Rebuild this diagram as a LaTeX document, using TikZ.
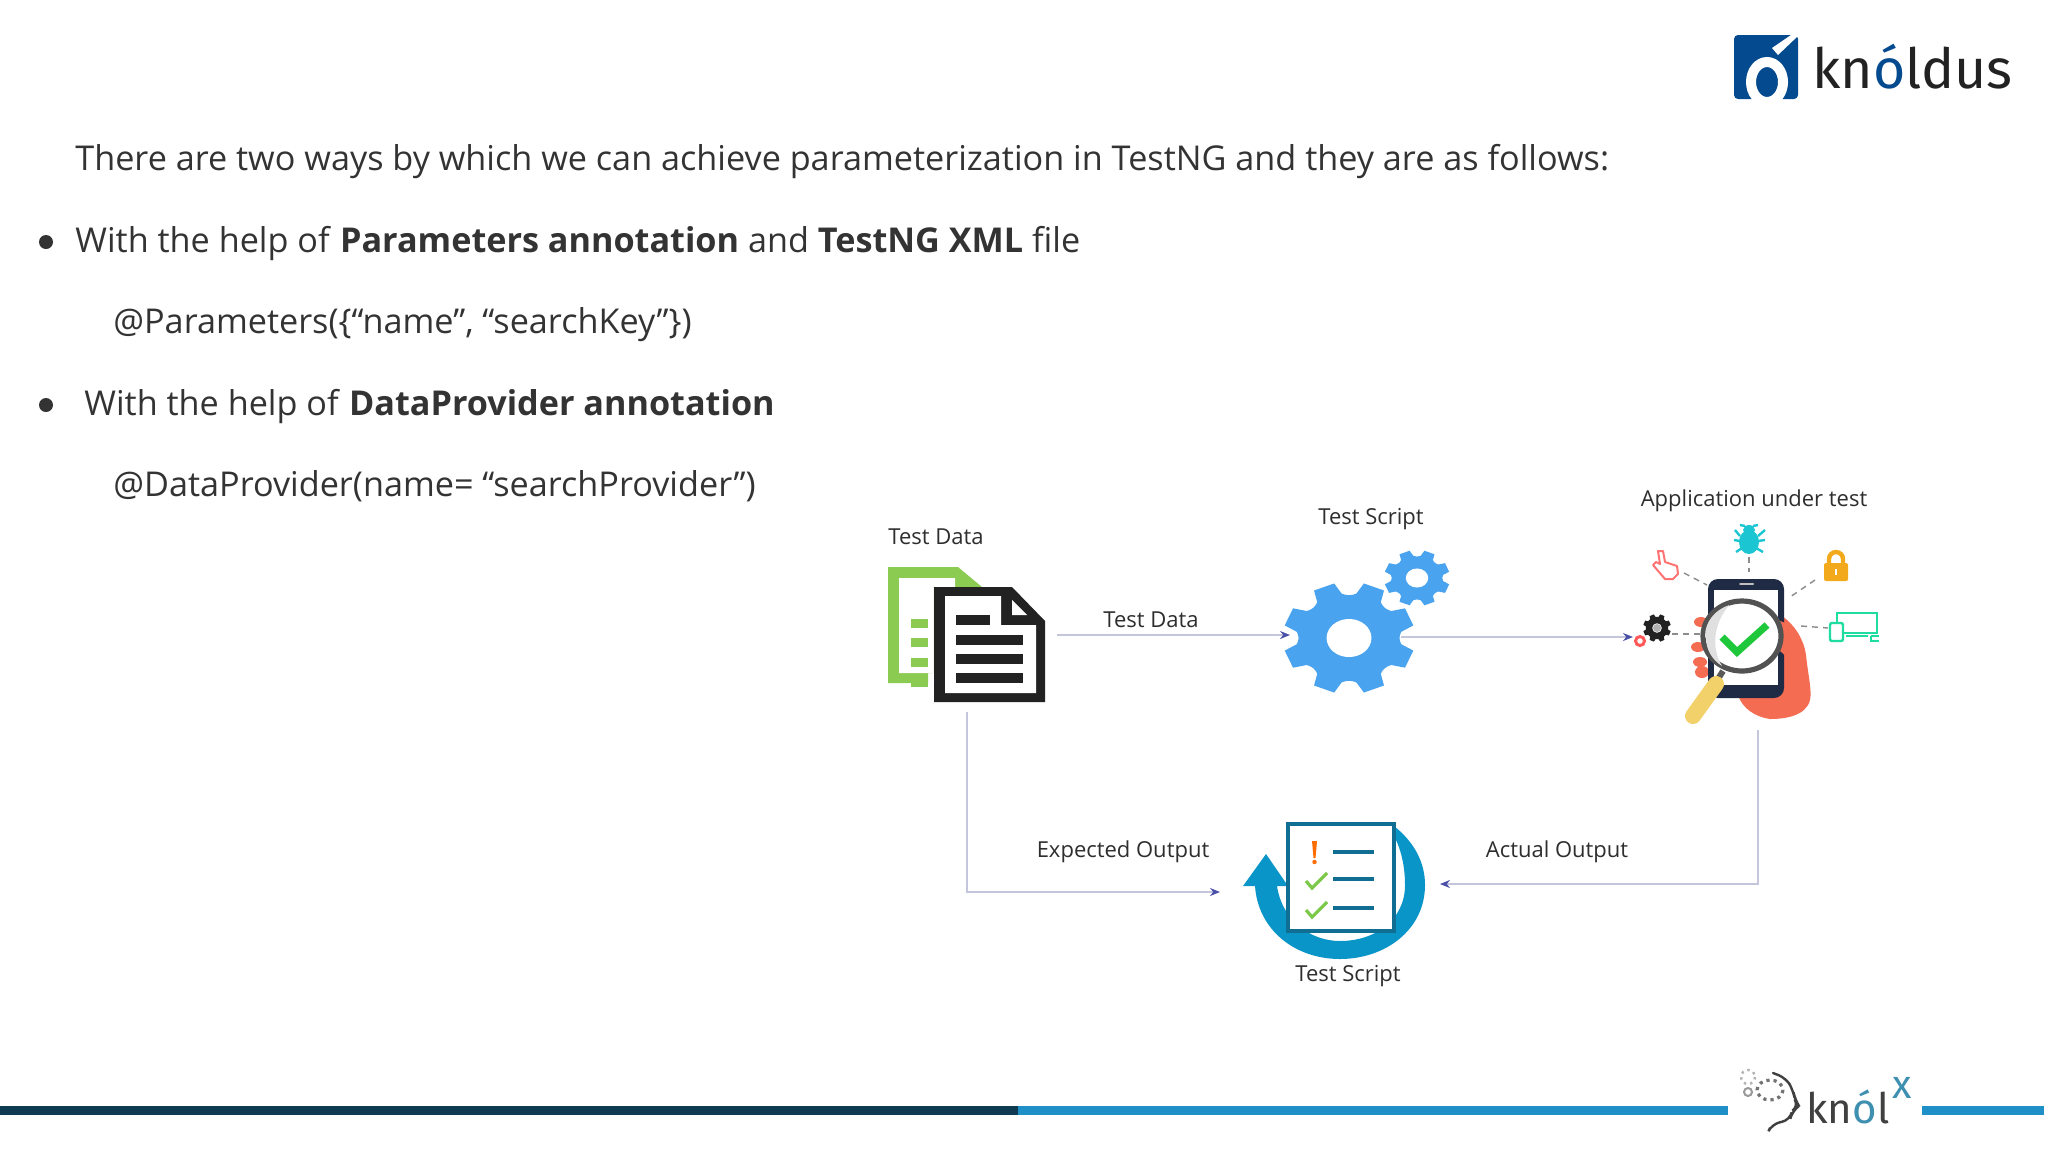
\documentclass[tikz,border=0pt]{standalone}
\usepackage{fontspec}
\setmainfont{Open Sans}
\newfontfamily\logofont{Fira Sans}
\usetikzlibrary{arrows.meta,positioning}
\definecolor{bodytext}{HTML}{333333}
\definecolor{labeltext}{HTML}{2E2E2E}
\definecolor{linkline}{HTML}{C4C6DC}
\definecolor{linktip}{HTML}{4A50A8}
\definecolor{docgreen}{HTML}{8CCB52}
\definecolor{docblack}{HTML}{222222}
\definecolor{gearblue}{HTML}{4AA3EE}
\definecolor{ringblue}{HTML}{0A95C8}
\definecolor{sheetblue}{HTML}{0F6E92}
\definecolor{handred}{HTML}{F46C52}
\definecolor{phonedark}{HTML}{1F2A44}
\definecolor{bugteal}{HTML}{1CC5D2}
\definecolor{lockamber}{HTML}{F2A91C}
\definecolor{devicegreen}{HTML}{1FDDA0}
\definecolor{handleyellow}{HTML}{F2D16B}
\definecolor{checkgreen}{HTML}{1FC83A}
\definecolor{ticklime}{HTML}{7CC84A}
\definecolor{logoblue}{HTML}{034A8E}
\definecolor{knolteal}{HTML}{3E8FB0}
\definecolor{bardark}{HTML}{0F3B52}
\definecolor{barblue}{HTML}{1E8FC7}
\tikzset{
  bodyline/.style={anchor=base west, inner sep=0pt, text=bodytext, font=\fontsize{17.1}{20}\selectfont},
  iconlabel/.style={inner sep=0pt, text=labeltext, font=\fontsize{11}{13}\selectfont},
  link/.style={draw=linkline, line width=0.8pt},
  linkarrow/.style={link, -{Stealth[length=5pt,width=4pt,color=linktip]}},
  ray/.style={draw=black!45, line width=0.7pt, dash pattern=on 3pt off 2.5pt},
  bullet/.style={circle, fill=bodytext, inner sep=0pt, minimum size=7pt},
}
% gear: centre x, centre y, radius x, radius y, turn, colour
\newcommand{\gearicon}[6]{
  \begin{scope}[shift={(#1,#2)}, xscale=#3, yscale=#4]
    \fill[#6, line join=round] (#5+8:0.80)
      \foreach \a in {0,45,...,315} {
        -- (#5+\a+8:0.80) -- (#5+\a+13:1) -- (#5+\a+32:1) -- (#5+\a+37:0.80)
        to[bend right=25] (#5+\a+53:0.80)
      } -- cycle;
    \fill[white] (0,0) circle (0.34);
  \end{scope}
}

\begin{document}
\begin{tikzpicture}[x=0.5pt, y=-0.5pt]
  \useasboundingbox[fill=white] (0,0) rectangle (2048,1152);

  % text of the slide
  \node[bodyline] (intro) at (75,170) {There are two ways by which we can achieve parameterization in TestNG and they are as follows:};
  \node[bodyline] (wayone) at (75,252) {With the help of \textbf{Parameters annotation} and \textbf{TestNG XML} file};
  \node[bodyline] (codeone) at (113,333) {@Parameters(\{“name”, “searchKey”\})};
  \node[bodyline] (waytwo) at (84,415) {With the help of \textbf{DataProvider annotation}};
  \node[bodyline] (codetwo) at (113,496) {@DataProvider(name= “searchProvider”)};
  \node[bullet] (dotone) at (46,242) {};
  \node[bullet] (dottwo) at (46,405) {};

  % data file icon
  \fill[docgreen] (888,567) -- (958,567) -- (982,587) -- (933,587) -- (933,673) -- (928,673) -- (928,683) -- (888,683) -- cycle;
  \fill[white] (899,578) -- (955,578) -- (955,587) -- (933,587) -- (933,673) -- (899,673) -- cycle;
  \foreach \y in {624,643,663,683}
    \fill[docgreen] (911,\y-5) rectangle (928,\y+4);
  \fill[docblack] (934,587) -- (1012,587) -- (1045,621) -- (1045,702) -- (934,702) -- cycle;
  \fill[white] (945,596) -- (1001,596) -- (1001,625) -- (1036,625) -- (1036,693) -- (945,693) -- cycle;
  \fill[white] (1012,600) -- (1027,615) -- (1012,615) -- cycle;
  \fill[docblack] (956,615) rectangle (990,625);
  \foreach \y in {640,659,678}
    \fill[docblack] (956,\y-5) rectangle (1023,\y+5);

  % gears
  \gearicon{1349}{638}{66}{56}{0}{gearblue}
  \gearicon{1417}{578}{33}{28}{0}{gearblue}

  % phone under test
  \fill[handred] (1782,616)
    .. controls (1795,625) and (1804,640) .. (1806,655)
    .. controls (1808,675) and (1812,690) .. (1810,700)
    .. controls (1806,716) and (1785,719) .. (1770,719)
    .. controls (1755,717) and (1742,708) .. (1738,695)
    -- (1770,640) -- cycle;
  \fill[handred] (1701,622) ellipse [x radius=7, y radius=5];
  \fill[handred] (1698,647) ellipse [x radius=7, y radius=5];
  \fill[handred] (1700,662) ellipse [x radius=7, y radius=5];
  \fill[handred] (1702,672) ellipse [x radius=7, y radius=6];
  \fill[phonedark, rounded corners=5pt] (1708,579) rectangle (1784,698);
  \fill[white] (1714,590) rectangle (1778,685);
  \draw[black!25, line width=1pt, line cap=round] (1740,584) -- (1753,584);
  \fill[handred] (1778,620) -- (1790,625) -- (1790,660) -- (1779,650) -- cycle;
  \draw[line width=3pt, black!65] (1723,671) -- (1716,682);
  \draw[line width=8pt, line cap=round, handleyellow] (1716,684) -- (1693,716);
  \draw[fill=white, draw=black!68, line width=2.6pt] (1742,636) ellipse [x radius=39, y radius=35];
  \fill[black!12] (1705,636) arc [start angle=180, end angle=250, x radius=37, y radius=33]
    .. controls (1712,625) and (1712,650) .. (1722,666)
    arc [start angle=125, end angle=180, x radius=37, y radius=33] -- cycle;
  \draw[checkgreen, line width=3.6pt] (1722,637) -- (1737,652) -- (1767,625);

  % small icons round the phone
  \draw[ray] (1749,557) -- (1749,572);
  \draw[ray] (1684,573) -- (1707,585);
  \draw[ray] (1815,580) -- (1790,597);
  \draw[ray] (1801,626) -- (1828,628);
  \draw[ray] (1672,634) -- (1700,634);
  \gearicon{1657}{628}{14}{14}{0}{docblack}
  \fill[black!30] (1657,628) circle (4);
  \draw[red!65!white, line width=1.5pt] (1640,641) circle (4.5);
  % bug
  \fill[bugteal] (1749,542) ellipse [x radius=10, y radius=12];
  \fill[bugteal] (1749,530) ellipse [x radius=6, y radius=5];
  \draw[bugteal, line width=1.2pt]
    (1740,536) -- (1735,530) (1758,536) -- (1765,530)
    (1740,541) -- (1734,540) (1758,541) -- (1765,540)
    (1742,548) -- (1736,552) (1756,548) -- (1763,552)
    (1745,526) -- (1740,525) (1753,526) -- (1758,525);
  % pointer
  \draw[red!55!white, line width=1pt, line join=round]
    (1658,551) -- (1663,551) -- (1665,562) -- (1677,566) -- (1678,574) -- (1673,579)
    -- (1665,579) -- (1653,565) -- (1656,562) -- (1660,564) -- cycle;
  % lock
  \draw[lockamber, line width=2.2pt] (1829,564) -- (1829,559) arc [start angle=180, end angle=360, radius=7] -- (1843,564);
  \fill[lockamber, rounded corners=1pt] (1824,563) rectangle (1848,581);
  \fill[white] (1835,569) rectangle (1837,575);
  % devices
  \draw[devicegreen, line width=1.2pt] (1837,622) -- (1837,613) -- (1877,613) -- (1877,633) -- (1844,633);
  \draw[devicegreen, line width=1.2pt, rounded corners=1pt] (1830,623) rectangle (1843,641);
  \draw[devicegreen, line width=1.2pt] (1846,636) -- (1868,636) (1871,636) -- (1879,636) (1871,636) -- (1871,641) -- (1879,641);

  % checklist with round arrow
  \fill[ringblue] (1394,826)
    .. controls (1414,842) and (1425,862) .. (1425,885)
    .. controls (1425,930) and (1385,959) .. (1340,959)
    .. controls (1295,959) and (1258,930) .. (1255,886)
    -- (1243,886) -- (1266,854) -- (1288,886) -- (1277,886)
    .. controls (1282,920) and (1310,941) .. (1340,941)
    .. controls (1375,941) and (1405,920) .. (1405,885)
    .. controls (1405,862) and (1399,845) .. (1394,836) -- cycle;
  \draw[sheetblue, fill=white, line width=2.4pt] (1288,824) rectangle (1394,931);
  \fill[orange!85!red] (1312,841) -- (1317,841) -- (1315.5,858) -- (1313.5,858) -- cycle;
  \fill[orange!85!red] (1314.5,862) circle (2.2);
  \foreach \y in {852,879,908}
    \draw[sheetblue, line width=2pt] (1333,\y) -- (1374,\y);
  \foreach \y in {873,902}
    \draw[ticklime, line width=1.6pt] (1306,\y+8) -- (1312,\y+15) -- (1327,\y);

  % connectors
  \coordinate (dataout) at (1057,635);
  \coordinate (gearin) at (1290,635);
  \coordinate (gearout) at (1401,637);
  \coordinate (phonein) at (1633,637);
  \coordinate (datadown) at (967,712);
  \coordinate (expectedin) at (1220,892);
  \coordinate (phonedown) at (1758,730);
  \coordinate (actualin) at (1440,884);
  \draw[linkarrow] (dataout) -- (gearin);
  \draw[linkarrow] (gearout) -- (phonein);
  \draw[linkarrow] (datadown) |- (expectedin);
  \draw[linkarrow] (phonedown) |- (actualin);

  % labels of the diagram
  \node[iconlabel] (datalabel) at (936,537) {Test Data};
  \node[iconlabel] (scriptlabel) at (1371,519) {Test Script};
  \node[iconlabel] (applabel) at (1754,501) {Application under test};
  \node[iconlabel] (linklabel) at (1151,620) {Test Data};
  \node[iconlabel] (expectedlabel) at (1123,852) {Expected Output};
  \node[iconlabel] (actuallabel) at (1557,852) {Actual Output};
  \node[iconlabel] (checklabel) at (1348,976) {Test Script};

  % company logo
  \fill[logoblue, rounded corners=2pt] (1734,35) rectangle (1798,99);
  \begin{scope}
    \clip (1734,35) rectangle (1798,99);
    \draw[white, line width=5pt] (1767,82) ellipse [x radius=16, y radius=20];
    \fill[white] (1772,48) -- (1791,35) -- (1799,35) -- (1778,55) -- cycle;
  \end{scope}
  \node[anchor=base west, inner sep=0pt, text=docblack, font=\logofont\fontsize{27.7}{32}\selectfont] (logoword) at (1812,88)
    {kn\textcolor{logoblue}{ó}ldus};

  % bottom rule
  \fill[bardark] (0,1106) rectangle (1018,1115);
  \fill[barblue] (1018,1106) rectangle (1728,1115);
  \fill[barblue] (1922,1106) rectangle (2044,1115);

  % knolx mark
  \draw[black!75, line width=1.2pt, line cap=round, rounded corners=4pt]
    (1773,1073) -- (1786,1078) -- (1793,1090) -- (1795,1100) -- (1799,1106) -- (1792,1111)
    -- (1790,1120) -- (1772,1124) -- (1770,1128);
  \draw[black!30, line width=1.2pt, dotted] (1748,1077) circle (7);
  \draw[black!55, line width=1.6pt, dotted] (1770,1090) ellipse [x radius=13, y radius=10];
  \draw[black!40, line width=1pt] (1748,1092) circle (4);
  \node[anchor=base west, inner sep=0pt, text=black!75, font=\logofont\fontsize{21}{24}\selectfont] (knolword) at (1806,1123)
    {kn\textcolor{knolteal}{ó}l};
  \node[inner sep=0pt, text=knolteal, font=\logofont\fontsize{20}{22}\selectfont] (knolmark) at (1902,1088) {x};
\end{tikzpicture}
\end{document}
